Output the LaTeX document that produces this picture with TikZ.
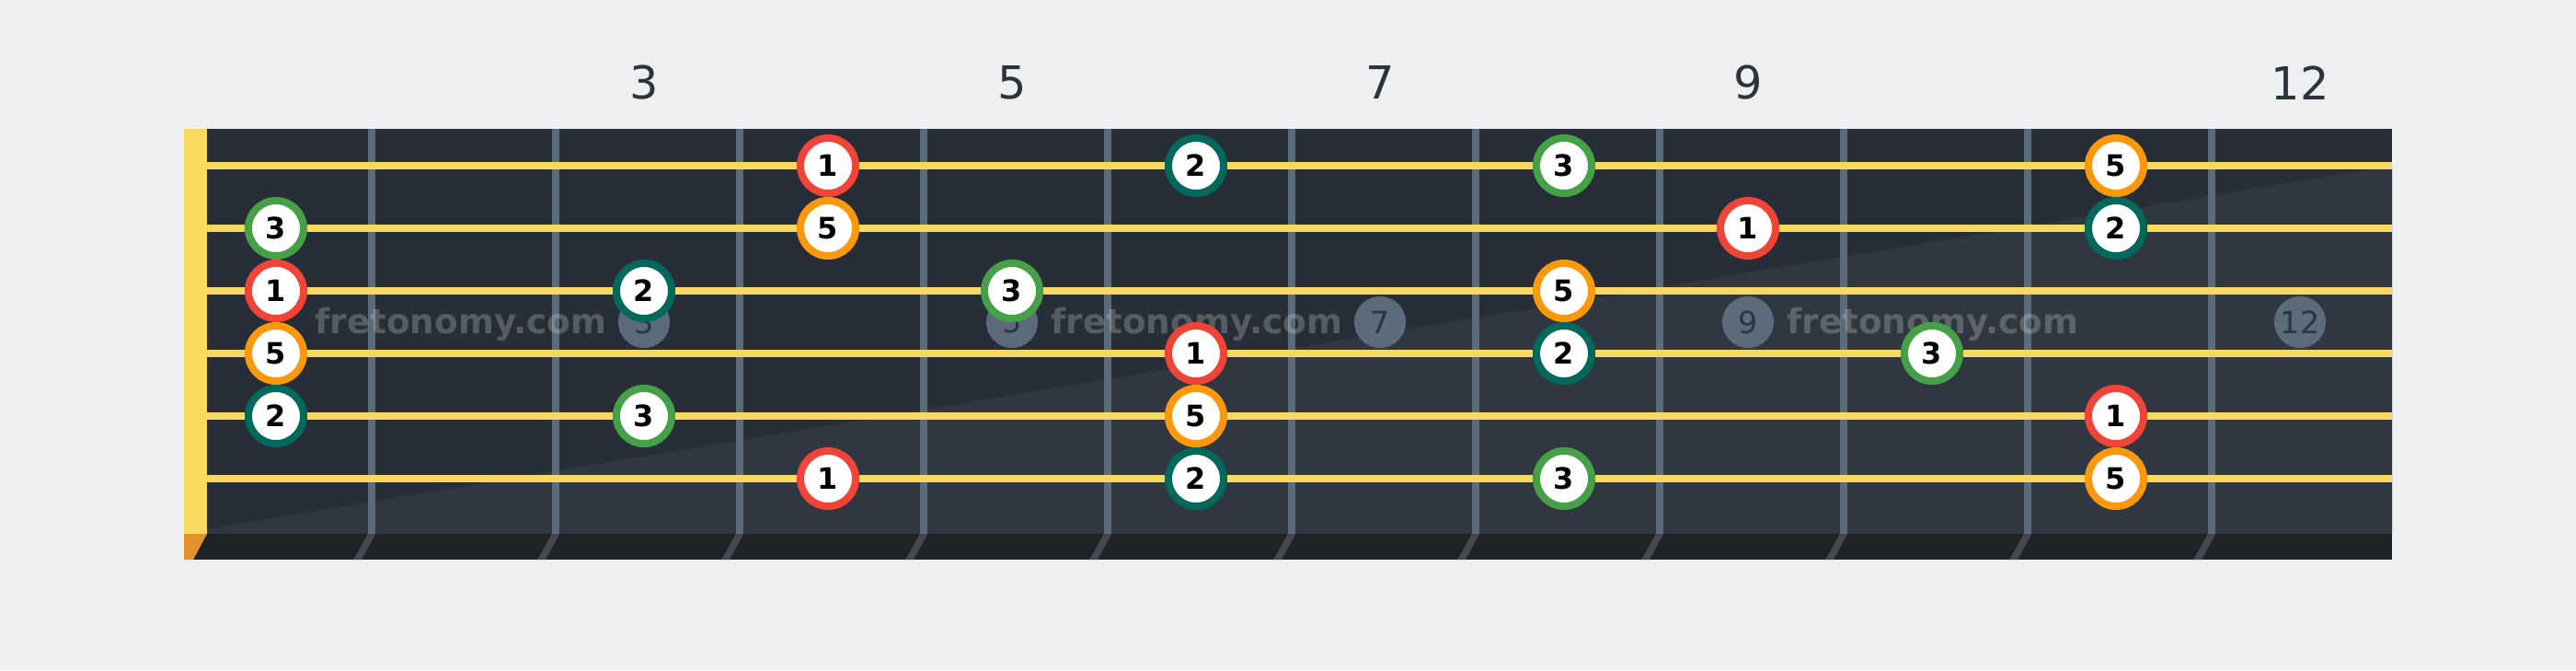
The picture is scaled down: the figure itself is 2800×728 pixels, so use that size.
\documentclass[tikz,border=0pt]{standalone}
\usepackage{fontspec}
\setmainfont{DejaVu Sans}
\usetikzlibrary{positioning}

\definecolor{pagebg}{HTML}{EDEFF1}
\definecolor{boardtop}{HTML}{282E37}
\definecolor{boardlow}{HTML}{313740}
\definecolor{boardfoot}{HTML}{1F2226}
\definecolor{fretgrey}{HTML}{5B6B79}
\definecolor{footshade}{HTML}{464A50}
\definecolor{stringyel}{HTML}{F7D860}
\definecolor{nutyel}{HTML}{F8DA5F}
\definecolor{nutfoot}{HTML}{E3912A}
\definecolor{labeltxt}{HTML}{2B333C}
\definecolor{dottxt}{HTML}{2C3540}
\definecolor{deg1}{HTML}{F04438}
\definecolor{deg2}{HTML}{00695C}
\definecolor{deg3}{HTML}{45A048}
\definecolor{deg5}{HTML}{FB980C}

\tikzset{every picture/.style={line width=0.75pt}}
\tikzset{
  fretwire/.style={draw=fretgrey, line width=6pt},
  guitarstring/.style={draw=stringyel, line width=6pt},
  fretlabel/.style={text=labeltxt, inner sep=0pt, font=\fontsize{37}{37}\selectfont},
  inlay/.style={circle, fill=fretgrey, minimum size=42pt, inner sep=0pt, text=dottxt, font=\fontsize{25}{25}\selectfont},
  watermark/.style={anchor=base west, inner sep=0pt, text=white, text opacity=0.22, font=\bfseries\fontsize{28}{28}\selectfont},
  scalenote/.style={circle, draw=#1, line width=6pt, fill=white, minimum size=45pt, inner sep=0pt, text=black, font=\bfseries\fontsize{24}{24}\selectfont}
}

\begin{document}
\begin{tikzpicture}[x=0.75pt,y=0.75pt,yscale=-1,xscale=1]
\useasboundingbox (0,0) rectangle (2800,728);
\fill[pagebg] (0,0) rectangle (2800,728);

% Board
\fill[boardtop] (200,140) rectangle (2600,580);
\fill[boardlow] (225,575) -- (2600,180) -- (2600,580) -- (225,580) -- cycle;
\fill[boardfoot] (200,580) rectangle (2600,608);
\fill[nutyel] (200,140) rectangle (225,580);
\fill[nutfoot] (200,580) -- (225,580) -- (210,608) -- (200,608) -- cycle;

% Frets
\foreach \f in {1,...,11}{
  \draw[fretwire] ({204+200*\f},140) -- ({204+200*\f},580);
  \fill[footshade] ({200+200*\f},580) -- ({208+200*\f},580) -- ({193+200*\f},608) -- ({184+200*\f},608) -- cycle;
}

% Fret numbers and inlays
\foreach \f in {3,5,7,9,12}{
  \node[fretlabel] (lbl\f) at ({100+200*\f},90) {\f};
  \node[inlay] (dot\f) at ({100+200*\f},350) {\f};
}

% Watermarks
\foreach \w [count=\i] in {342,1142,1942}
  \node[watermark] (wm\i) at (\w,362) {fretonomy.com};

% Strings
\foreach \s in {1,...,6}
  \draw[guitarstring] (225,{112+68*\s}) -- (2600,{112+68*\s});

% Scale notes: string/fret/degree
\foreach \s/\f/\d in {1/4/1, 1/6/2, 1/8/3, 1/11/5,
                      2/1/3, 2/4/5, 2/9/1, 2/11/2,
                      3/1/1, 3/3/2, 3/5/3, 3/8/5,
                      4/1/5, 4/6/1, 4/8/2, 4/10/3,
                      5/1/2, 5/3/3, 5/6/5, 5/11/1,
                      6/4/1, 6/6/2, 6/8/3, 6/11/5}
  \node[scalenote=deg\d] (n\s-\f) at ({100+200*\f},{112+68*\s}) {\d};

\end{tikzpicture}
\end{document}
